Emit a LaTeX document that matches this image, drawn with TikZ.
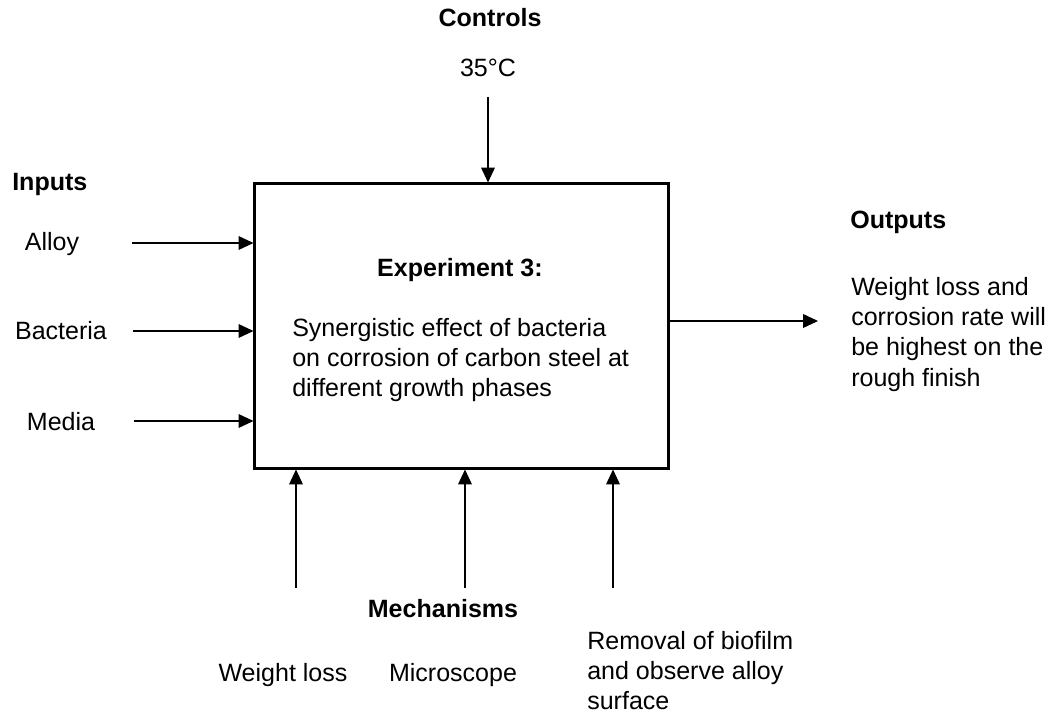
\documentclass[tikz,border=0pt]{standalone}
\usepackage{fontspec}
\setmainfont{Liberation Sans}
\usetikzlibrary{arrows.meta,positioning}

\begin{document}
\begin{tikzpicture}[
    x=0.025cm, y=-0.025cm,
    font=\fontsize{17.8}{21.5}\selectfont,
    lbl/.style={inner sep=0pt, align=left},
    head/.style={inner sep=0pt, font=\fontsize{17.8}{21.5}\selectfont\bfseries},
    arrow/.style={-{Triangle[length=3.7mm, width=3.4mm]}, line width=0.85pt},
]
\useasboundingbox (0,0) rectangle (1050,715);

% Process box
\node[draw, line width=2.1pt, minimum width=10.325cm, minimum height=7.1cm, inner sep=0pt] (exp) at (461.5,326) {};
\node[head] (expttl) at (460,270) {Experiment 3:};
\node[lbl, anchor=north west] (expdesc) at (292,318) {Synergistic effect of bacteria\\on corrosion of carbon steel at\\different growth phases};

% Controls
\node[head] (ctlttl) at (490,18) {Controls};
\node[lbl] (temp) at (488,68) {35°C};
\coordinate (ctl) at (488,97);
\draw[arrow] (ctl) -- (ctl |- exp.north);

% Inputs
\node[head, anchor=west] (inttl) at (12,184) {Inputs};
\node[lbl] (alloy) at (52,244) {Alloy};
\node[lbl] (bact) at (61,331) {Bacteria};
\node[lbl] (media) at (61,422) {Media};
\coordinate (in1) at (132,243);
\coordinate (in2) at (133,331);
\coordinate (in3) at (134,421);
\draw[arrow] (in1) -- (in1 -| exp.west);
\draw[arrow] (in2) -- (in2 -| exp.west);
\draw[arrow] (in3) -- (in3 -| exp.west);

% Outputs
\node[head, anchor=west] (outttl) at (850,222) {Outputs};
\node[lbl, anchor=north west] (result) at (851,277) {Weight loss and\\corrosion rate will\\be highest on the\\rough finish};
\coordinate (out) at (818,321);
\draw[arrow] (out -| exp.east) -- (out);

% Mechanisms
\node[head] (mechttl) at (443,609) {Mechanisms};
\node[lbl] (wloss) at (283,675) {Weight loss};
\node[lbl] (micro) at (453,675) {Microscope};
\node[lbl, anchor=north west] (remov) at (587,631) {Removal of biofilm\\and observe alloy\\surface};
\coordinate (m1) at (296,588);
\coordinate (m2) at (465,588);
\coordinate (m3) at (613,588);
\draw[arrow] (m1) -- (m1 |- exp.south);
\draw[arrow] (m2) -- (m2 |- exp.south);
\draw[arrow] (m3) -- (m3 |- exp.south);

\end{tikzpicture}
\end{document}
